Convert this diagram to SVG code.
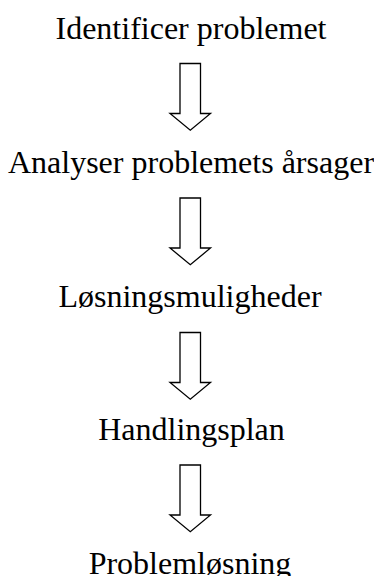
<svg xmlns="http://www.w3.org/2000/svg" width="374" height="576" viewBox="0 0 374 576">
<style>
text{font-family:"Liberation Serif","Times New Roman",serif;font-size:32px;fill:#000;text-anchor:middle}
.arrow{fill:#fff;stroke:#000;stroke-width:1.3;stroke-linejoin:miter}
</style>
<defs>
<path id="down" class="arrow" d="M180,0 H200.5 V50 H210.5 L190.3,66.7 L170,50 H180 Z"/>
</defs>
<rect width="374" height="576" fill="#fff"/>
<g id="n1"><text x="191" y="38.5">Identificer problemet</text></g>
<g id="n2"><text x="191" y="173">Analyser problemets årsager</text></g>
<g id="n3"><text x="190" y="306.5">Løsningsmuligheder</text></g>
<g id="n4"><text x="191.5" y="440">Handlingsplan</text></g>
<g id="n5"><text x="190" y="573.5">Problemløsning</text></g>
<g id="connectors">
<use href="#down" y="63.5"/>
<use href="#down" y="198"/>
<use href="#down" y="332.5"/>
<use href="#down" y="465"/>
</g>
</svg>
